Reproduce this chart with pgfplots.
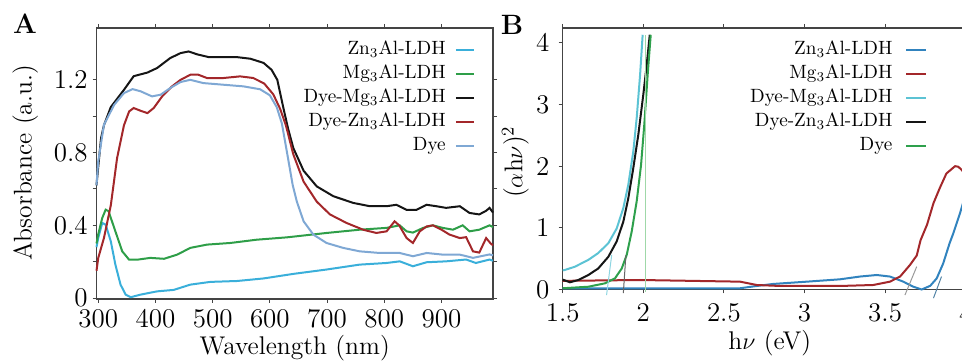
\documentclass[border=0pt]{standalone}
\usepackage{pgfplots}
\pgfplotsset{compat=1.18}
\definecolor{cZnA}{HTML}{3AAFDA}
\definecolor{cMgA}{HTML}{2E9E48}
\definecolor{cBlk}{HTML}{151515}
\definecolor{cRed}{HTML}{A3272A}
\definecolor{cDyeA}{HTML}{7FA8D4}
\definecolor{cZnB}{HTML}{3183BE}
\definecolor{cCyanB}{HTML}{5CC3D4}
\definecolor{cGrnB}{HTML}{2EA04C}
\definecolor{cVline}{HTML}{9FD8A8}
\definecolor{cFrame}{HTML}{444444}
\begin{document}
\begin{tikzpicture}
\useasboundingbox (0,0) rectangle (481pt,181pt);
\node[font=\rmfamily\bfseries\fontsize{14}{14}\selectfont] at (12.5pt,169pt) {A};
\node[font=\rmfamily\bfseries\fontsize{14}{14}\selectfont] at (256pt,168.5pt) {B};

% ---------- Panel A ----------
\begin{axis}[
  scale only axis,
  axis line style={draw=cFrame, line width=0.75pt},
  tick align=outside, major tick length=2pt,
  tick style={cFrame, line width=0.5pt},
  /pgf/number format/assume math mode=true,
  ticklabel style={font=\rmfamily\fontsize{13.5}{14}\selectfont, inner sep=0pt},
  label style={font=\rmfamily\fontsize{12.8}{14}\selectfont},
  legend plot pos=right, legend cell align=right,
  every axis plot/.append style={line width=1pt, no markers},
  clip=false,
  at={(48.25pt,31.5pt)}, anchor=south west,
  width=198.25pt, height=135.5pt,
  xmin=297, xmax=990, ymin=-0.005, ymax=1.485,
  xtick={300,400,500,600,700,800,900},
  ytick={0,0.2,0.4,0.6,0.8,1.0,1.2},
  yticklabels={0,,0.4,,0.8,,1.2},
  xticklabel style={yshift=-2.9pt},
  yticklabel style={xshift=-2.25pt},
  xlabel={Wavelength (nm)},
  xlabel style={at={(axis description cs:0.5,-0.181)}, anchor=center},
  ylabel={Absorbance (a.u.)},
  ylabel style={at={(axis description cs:-0.180,0.502)}, anchor=center},
  legend image code/.code={\draw[#1] (0pt,0pt) -- (9pt,0pt);},
  legend style={draw=none, fill=none, inner sep=0pt,
      font=\rmfamily\fontsize{9.6}{12}\selectfont, row sep=2.5pt,
      nodes={inner sep=0pt, text height=7.2pt, text depth=2.3pt},
      at={(0.955,0.956)}, anchor=north east, column sep=4.5pt},
]
\addplot[cZnA] coordinates {
(297,0.28)(300,0.33)(307,0.413)(313,0.404)(322,0.312)(330,0.184)(339,0.074)
(348,0.019)(357,0.005)(374,0.019)(403,0.037)(432,0.045)(461,0.074)(496,0.089)
(543,0.094)(589,0.108)(641,0.133)(699,0.157)(757,0.184)(804,0.193)(827,0.202)
(850,0.175)(874,0.197)(908,0.202)(943,0.212)(960,0.193)(984,0.212)(990,0.205)};
\addlegendentry{Zn\textsubscript{3}Al-LDH}
\addplot[cMgA] coordinates {
(297,0.30)(300,0.35)(307,0.44)(313,0.486)(318,0.478)(330,0.367)(342,0.257)
(354,0.211)(368,0.211)(391,0.221)(415,0.216)(438,0.239)(461,0.276)(490,0.294)
(531,0.303)(577,0.321)(630,0.334)(699,0.358)(757,0.376)(804,0.386)(827,0.40)
(839,0.367)(850,0.36)(868,0.386)(885,0.40)(902,0.386)(920,0.376)(937,0.40)
(949,0.367)(966,0.376)(984,0.40)(990,0.39)};
\addlegendentry{Mg\textsubscript{3}Al-LDH}
\addplot[cBlk] coordinates {
(297,0.62)(300,0.72)(305,0.88)(310,0.95)(322,1.05)(345,1.145)(362,1.22)
(386,1.24)(403,1.265)(426,1.32)(444,1.347)(458,1.356)(473,1.34)(493,1.325)
(519,1.325)(542,1.325)(566,1.316)(589,1.293)(603,1.255)(613,1.20)(624,1.04)
(632,0.93)(641,0.825)(659,0.70)(682,0.614)(711,0.56)(746,0.523)(775,0.505)
(804,0.505)(821,0.513)(839,0.485)(856,0.485)(874,0.513)(891,0.505)(908,0.496)
(932,0.505)(949,0.468)(966,0.46)(978,0.48)(984,0.496)(990,0.47)};
\addlegendentry{Dye-Mg\textsubscript{3}Al-LDH}
\addplot[cRed] coordinates {
(297,0.15)(300,0.22)(310,0.33)(322,0.51)(333,0.77)(345,0.95)(354,1.026)
(362,1.045)(374,1.03)(386,1.017)(397,1.045)(412,1.11)(429,1.164)(444,1.2)
(461,1.228)(475,1.228)(490,1.21)(519,1.21)(548,1.219)(571,1.21)(590,1.18)
(606,1.12)(618,1.04)(628,0.95)(641,0.79)(659,0.64)(682,0.53)(705,0.46)
(734,0.413)(763,0.376)(786,0.358)(804,0.367)(818,0.422)(826,0.40)(839,0.33)
(850,0.303)(862,0.367)(874,0.394)(885,0.40)(900,0.376)(914,0.349)(932,0.33)
(943,0.335)(955,0.257)(966,0.25)(978,0.33)(986,0.30)(990,0.29)};
\addlegendentry{Dye-Zn\textsubscript{3}Al-LDH}
\addplot[cDyeA] coordinates {
(297,0.62)(300,0.75)(310,0.953)(328,1.063)(345,1.127)(360,1.149)(374,1.137)
(394,1.109)(409,1.118)(426,1.155)(444,1.188)(461,1.2)(484,1.182)(519,1.173)
(554,1.164)(583,1.148)(600,1.115)(612,1.05)(621,0.96)(630,0.80)(640,0.62)
(647,0.532)(659,0.422)(676,0.349)(699,0.303)(728,0.276)(757,0.257)(792,0.248)
(827,0.248)(850,0.23)(874,0.248)(902,0.239)(932,0.239)(955,0.221)(984,0.24)
(990,0.235)};
\addlegendentry{Dye}
\end{axis}

% ---------- Panel B ----------
\begin{axis}[
  scale only axis,
  axis line style={draw=cFrame, line width=0.75pt},
  tick align=outside, major tick length=2pt,
  tick style={cFrame, line width=0.5pt},
  /pgf/number format/assume math mode=true,
  ticklabel style={font=\rmfamily\fontsize{13.5}{14}\selectfont, inner sep=0pt},
  label style={font=\rmfamily\fontsize{12.8}{14}\selectfont},
  legend plot pos=right, legend cell align=right,
  every axis plot/.append style={line width=1pt, no markers},
  clip=false,
  at={(281.35pt,36.25pt)}, anchor=south west,
  width=201.5pt, height=130.75pt,
  xmin=1.5, xmax=4, ymin=0, ymax=4.24,
  xtick={1.5,2,2.5,3,3.5,4},
  ytick={0,1,2,3,4},
  xticklabel style={yshift=-5pt},
  yticklabel style={xshift=-4.5pt},
  xlabel={h$\nu$ (eV)},
  xlabel style={at={(axis description cs:0.514,-0.205)}, anchor=center},
  ylabel={($\alpha$h$\nu$)\textsuperscript{2}},
  ylabel style={at={(axis description cs:-0.118,0.488)}, anchor=center},
  legend image code/.code={\draw[#1] (0pt,0pt) -- (10pt,0pt);},
  legend style={draw=none, fill=none, inner sep=0pt,
      font=\rmfamily\fontsize{9.6}{12}\selectfont, row sep=2.5pt,
      nodes={inner sep=0pt, text height=7.2pt, text depth=2.3pt},
      at={(0.906,0.954)}, anchor=north east, column sep=6.5pt},
]
\addplot[cZnB] coordinates {
(1.5,0.02)(2.6,0.02)(2.703,0.057)(2.806,0.09)(3.014,0.127)(3.22,0.165)
(3.344,0.21)(3.448,0.235)(3.53,0.21)(3.613,0.127)(3.675,0.045)(3.727,0.0)
(3.78,0.06)(3.82,0.18)(3.86,0.42)(3.90,0.75)(3.923,0.91)(3.965,1.24)(4.0,1.55)};
\addlegendentry{Zn\textsubscript{3}Al-LDH}
\addplot[cRed] coordinates {
(1.5,0.14)(1.98,0.154)(2.6,0.127)(2.703,0.073)(2.848,0.057)(3.22,0.057)
(3.427,0.073)(3.53,0.127)(3.593,0.21)(3.655,0.40)(3.696,0.55)(3.72,0.80)
(3.76,1.05)(3.80,1.40)(3.84,1.65)(3.88,1.88)(3.934,2.0)(3.954,1.99)(3.975,1.94)(4.0,1.85)};
\addlegendentry{Mg\textsubscript{3}Al-LDH}
\addplot[cCyanB] coordinates {
(1.5,0.31)(1.514,0.317)(1.576,0.37)(1.659,0.48)(1.72,0.59)(1.783,0.75)
(1.835,0.99)(1.876,1.32)(1.907,1.70)(1.938,2.24)(1.959,2.78)(1.98,3.48)(1.996,4.13)};
\addlegendentry{Dye-Mg\textsubscript{3}Al-LDH}
\addplot[cBlk] coordinates {
(1.5,0.16)(1.545,0.117)(1.597,0.154)(1.659,0.235)(1.72,0.34)(1.783,0.53)
(1.835,0.78)(1.876,1.10)(1.907,1.48)(1.938,1.97)(1.969,2.51)(2.0,3.16)
(2.021,3.64)(2.04,4.13)};
\addlegendentry{Dye-Zn\textsubscript{3}Al-LDH}
\addplot[cGrnB] coordinates {
(1.5,0.02)(1.659,0.045)(1.762,0.10)(1.824,0.18)(1.866,0.34)(1.897,0.56)
(1.928,0.94)(1.959,1.43)(1.986,2.02)(2.006,2.67)(2.027,3.48)(2.046,4.13)};
\addlegendentry{Dye}
\addplot[cVline, line width=0.6pt, forget plot] coordinates {(2.015,-0.04)(2.015,4.13)};
\addplot[cCyanB!70, line width=0.5pt, forget plot] coordinates {(1.772,-0.09)(1.804,0.56)};
\addplot[black!60, line width=0.5pt, forget plot] coordinates {(1.876,-0.06)(1.892,0.56)};
\addplot[black!40, line width=0.5pt, forget plot] coordinates {(3.623,-0.09)(3.696,0.37)};
\addplot[cZnB!60!gray, line width=0.5pt, forget plot] coordinates {(3.80,-0.14)(3.85,0.21)};
\end{axis}
\end{tikzpicture}
\end{document}
